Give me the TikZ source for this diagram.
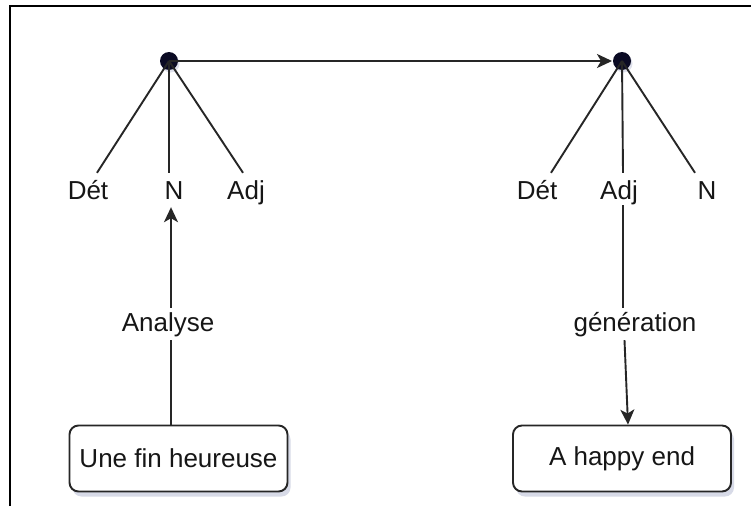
\documentclass[tikz,border=0pt]{standalone}
\usepackage{fontspec}
\setmainfont{Liberation Sans}
\usetikzlibrary{arrows.meta,shadows}
\definecolor{ink}{HTML}{161616}
\definecolor{edge}{HTML}{262626}
\definecolor{dotc}{HTML}{0B0B24}
\definecolor{shade}{HTML}{7C86B0}
\begin{document}
\begin{tikzpicture}[x=1pt,y=-1pt,
  lbl/.style={text=ink,font=\fontsize{26}{30}\selectfont,anchor=base,
    text height=20pt,text depth=6pt,inner sep=2pt},
  branch/.style={draw=edge,line width=1.9pt},
  link/.style={draw=edge,line width=1.9pt,-{Stealth[length=15pt,width=14pt,inset=4pt]}},
  rootdot/.style={circle,fill=dotc,minimum size=18pt,inner sep=0pt,
    drop shadow={shadow xshift=1.5pt,shadow yshift=-2.5pt,fill=shade,opacity=0.25}},
  textbox/.style={draw=edge,line width=1.9pt,rounded corners=9pt,fill=white,
    minimum width=218pt,minimum height=66pt,
    text=ink,font=\fontsize{26}{30}\selectfont,
    drop shadow={shadow xshift=3pt,shadow yshift=-5pt,fill=shade,opacity=0.3}},
  gaplabel/.style={lbl,fill=white,inner xsep=4pt,inner ysep=3pt}]
  \useasboundingbox (0,0) rectangle (751,506);
  \fill[white] (0,0) rectangle (751,506);
  % frame edges
  \draw[line width=2.6pt,black] (10,506) -- (10,6) -- (751,6);

  % source-language tree
  \node[rootdot] (r1) at (169,61) {};
  \node[lbl] (det1) at (88,199) {Dét};
  \node[lbl] (n1)   at (174,199) {N};
  \node[lbl] (adj1) at (246,199) {Adj};
  \draw[branch] (r1.center) -- ([xshift=9pt,yshift=4pt]det1.north);
  \draw[branch] (r1.center) -- ([xshift=-5pt,yshift=4pt]n1.north);
  \draw[branch] (r1.center) -- ([xshift=-3pt,yshift=4pt]adj1.north);

  % target-language tree
  \node[rootdot] (r2) at (622,61) {};
  \node[lbl] (det2) at (537,199) {Dét};
  \node[lbl] (adj2) at (619,199) {Adj};
  \node[lbl] (n2)   at (707,199) {N};
  \draw[branch] (r2.center) -- ([xshift=14pt,yshift=4pt]det2.north);
  \draw[branch] (r2.center) -- ([xshift=4pt,yshift=4pt]adj2.north);
  \draw[branch] (r2.center) -- ([xshift=-12pt,yshift=4pt]n2.north);

  % transfer between the trees
  \draw[link,shorten >=10pt] (r1.center) -- (r2.center);

  % sentences
  \node[textbox] (src) at (178.5,458.5) {Une fin heureuse};
  \node[textbox] (tgt) at (622,458.5) {A happy end};

  % analysis and generation steps
  \node[gaplabel] (ana) at (168,331) {Analyse};
  \node[gaplabel] (gen) at (635,331) {génération};
  \draw[branch] ([xshift=-7.5pt]src.north) -- (ana.south -| 171,0);
  \draw[link] (ana.north -| 171,0) -- ([xshift=-3pt]n1.south);
  \draw[branch] ([xshift=4pt,yshift=2pt]adj2.south) -- (gen.north -| 623,0);
  \draw[link] (gen.south -| 624.5,0) -- ([xshift=6pt]tgt.north);
\end{tikzpicture}
\end{document}
